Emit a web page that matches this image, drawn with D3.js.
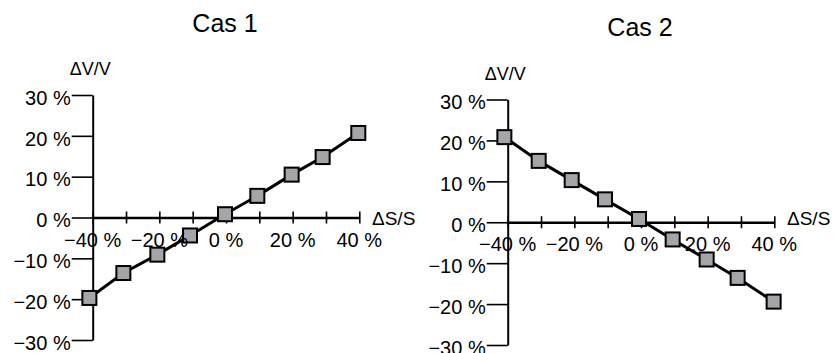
<!DOCTYPE html>
<html><head><meta charset="utf-8">
<script src="https://cdn.jsdelivr.net/npm/d3@7"></script>
<style>body{margin:0;background:#fff}svg{display:block}text{font-family:"Liberation Sans",Arial,sans-serif;fill:#000}</style>
</head><body>
<svg id="c" width="835" height="353"></svg>
<script>
const titles = ["Cas 1", "Cas 2"];
const yTicks = [-30, -20, -10, 0, 10, 20, 30];
const xTicks = [-40, -30, -20, -10, 0, 10, 20, 30, 40];
const xLabelTicks = [-40, -20, 0, 20, 40];
const cas1X = [-41, -30.8, -20.6, -10.8, -0.3, 9.4, 19.7, 29, 39.7];
const cas1Y = [-19.7, -13.6, -9.1, -4.4, 0.8, 5.3, 10.5, 14.8, 20.7];
const cas2X = [-41, -30.7, -20.8, -10.8, -0.6, 9.5, 19.7, 29, 39.8];
const cas2Y = [20.8, 15.0, 10.3, 5.6, 0.8, -4.2, -9.1, -13.6, -19.4];
const yAxisLabel = "ΔV/V";
const xAxisLabel = "ΔS/S";

const fmt = v => (v < 0 ? "\u2212" + Math.abs(v) : String(v)) + " %";
const svg = d3.select("#c");

const panels = [
  {title: titles[0], xs: cas1X, ys: cas1Y, x0: 92.7, x1: 359.3, yTop: 95, yBot: 340, titleY: 31.5, vY: 75, sX: 372, sY: 225, lblY: 246.5},
  {title: titles[1], xs: cas2X, ys: cas2Y, x0: 507.7, x1: 774.3, yTop: 99.5, yBot: 345, titleY: 36, vY: 80, sX: 787, sY: 225, lblY: 251}
];

panels.forEach(p => {
  const x = d3.scaleLinear().domain([-40, 40]).range([p.x0, p.x1]);
  const y = d3.scaleLinear().domain([-30, 30]).range([p.yBot, p.yTop]);
  const g = svg.append("g");

  // y axis
  const ya = g.append("g").attr("transform", `translate(${x(-40)},0)`)
    .call(d3.axisLeft(y).tickValues(yTicks).tickSizeInner(21).tickSizeOuter(0).tickPadding(1).tickFormat(fmt));
  ya.select(".domain").attr("stroke", "#000").attr("stroke-width", 2);
  ya.selectAll(".tick line").attr("stroke", "#000").attr("stroke-width", 1.6);
  ya.selectAll(".tick text").attr("font-size", 20).attr("font-family", "Liberation Sans, Arial, sans-serif").attr("fill", "#000").attr("dy", "0.46em");

  // x axis
  const xa = g.append("g").attr("transform", `translate(0,${y(0)})`)
    .call(d3.axisBottom(x).tickValues(xTicks).tickSizeInner(6).tickSizeOuter(0).tickFormat(""));
  xa.select(".domain").attr("stroke", "#000").attr("stroke-width", 2.4);
  xa.selectAll(".tick line").attr("y1", -6).attr("y2", 6).attr("stroke", "#000").attr("stroke-width", 1.6);

  // line + markers
  const pts = p.xs.map((v, i) => [v, p.ys[i]]);
  g.append("path").datum(pts)
    .attr("d", d3.line().x(d => x(d[0])).y(d => y(d[1])))
    .attr("fill", "none").attr("stroke", "#000").attr("stroke-width", 3);
  const s = 14;
  g.selectAll("rect.m").data(pts).enter().append("rect").attr("class", "m")
    .attr("x", d => x(d[0]) - s / 2).attr("y", d => y(d[1]) - s / 2)
    .attr("width", s).attr("height", s)
    .attr("fill", "#a5a5a9").attr("stroke", "#000").attr("stroke-width", 2);

  // x tick labels
  g.selectAll("text.xl").data(xLabelTicks).enter().append("text").attr("class", "xl")
    .attr("x", d => x(d)).attr("y", p.lblY).attr("text-anchor", "middle")
    .attr("font-size", 20).text(fmt);

  // titles and axis labels
  g.append("text").attr("x", x(0) - 1).attr("y", p.titleY).attr("text-anchor", "middle")
    .attr("font-size", 25).text(p.title);
  g.append("text").attr("x", x(-40) - 23).attr("y", p.vY).attr("font-size", 18).text(yAxisLabel);
  g.append("text").attr("x", p.sX).attr("y", p.sY).attr("font-size", 19).text(xAxisLabel);
});
</script>
</body></html>
